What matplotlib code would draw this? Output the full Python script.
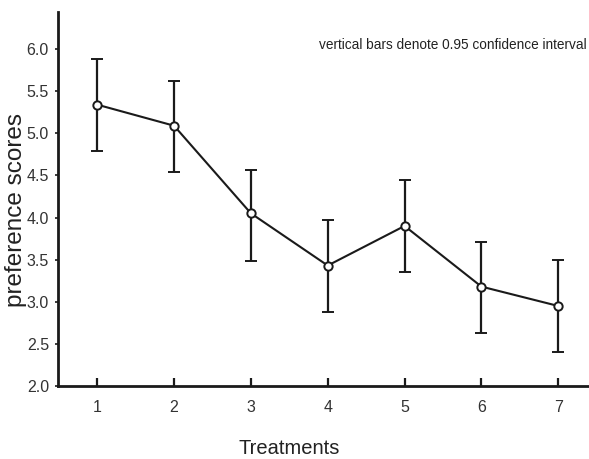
import matplotlib
matplotlib.use("Agg")
import matplotlib.pyplot as plt

treatments = [1, 2, 3, 4, 5, 6, 7]
means = [5.34, 5.09, 4.05, 3.43, 3.90, 3.18, 2.95]
upper = [5.88, 5.62, 4.57, 3.97, 4.44, 3.71, 3.49]
lower = [4.79, 4.54, 3.48, 2.88, 3.35, 2.63, 2.40]
yticks = [2.0, 2.5, 3.0, 3.5, 4.0, 4.5, 5.0, 5.5, 6.0]

plt.rcParams['font.family'] = ['Liberation Sans', 'DejaVu Sans']

fig = plt.figure(figsize=(5.89, 4.59), dpi=100)
W, H = 589, 459
ax = fig.add_axes([58 / W, (H - 386) / H, (589 - 58) / W, (386 - 12) / H])

yerr = [[m - l for m, l in zip(means, lower)], [u - m for u, m in zip(upper, means)]]
ax.errorbar(treatments, means, yerr=yerr, color='#1a1a1a', lw=1.5, elinewidth=1.6,
            capsize=4.3, capthick=1.6, marker='o', markersize=6, markerfacecolor='white',
            markeredgecolor='#1a1a1a', markeredgewidth=1.4, zorder=3)

ax.set_xlim(0.49, 7.40)
ax.set_ylim(2.0, 6.44)
ax.set_xticks(treatments)
ax.set_yticks(yticks)
ax.set_yticklabels([f"{v:.1f}" for v in yticks])

ax.tick_params(axis='x', direction='in', length=6, width=1.6, pad=10, labelsize=11.5,
               colors='#1a1a1a', labelcolor='#333333')
ax.tick_params(axis='y', direction='out', length=2.5, width=1.2, pad=4, labelsize=11.5,
               colors='#1a1a1a', labelcolor='#333333')

for s in ['top', 'right']:
    ax.spines[s].set_visible(False)
for s in ['left', 'bottom']:
    ax.spines[s].set_linewidth(2)
    ax.spines[s].set_color('#1a1a1a')

ax.set_xlabel('Treatments', fontsize=14.5, color='#222222', va='baseline')
ax.xaxis.set_label_coords((288.7 - 58) / 531, (386 - 454) / 374)
ax.set_ylabel('preference scores', fontsize=17.5, color='#222222', va='center')
ax.yaxis.set_label_coords((16.5 - 58) / 531, (386 - 210) / 374)

ax.text(0.995, 0.912, 'vertical bars denote 0.95 confidence interval', transform=ax.transAxes,
        ha='right', va='center', fontsize=9.8, color='#222222')

fig.savefig('out.png', dpi=100)
